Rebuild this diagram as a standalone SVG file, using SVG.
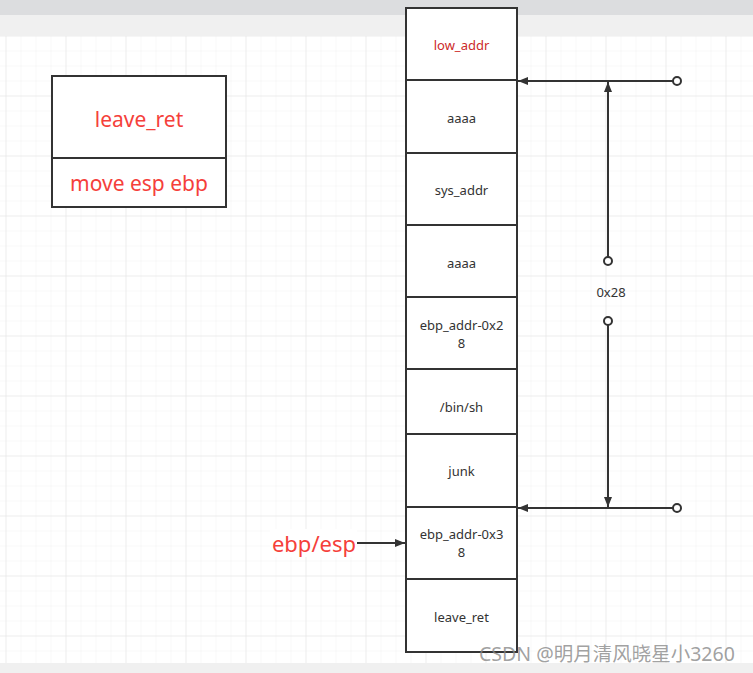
<svg xmlns="http://www.w3.org/2000/svg" width="753" height="673" viewBox="0 0 753 673">
<defs>
<pattern id="minor" x="5.5" y="5.5" width="15" height="15" patternUnits="userSpaceOnUse">
<path d="M0 0H15M0 0V15" fill="none" stroke="#f1f1f1" stroke-width="1"/>
</pattern>
<pattern id="major" x="5.5" y="35.5" width="60" height="60" patternUnits="userSpaceOnUse">
<path d="M0 0H60M0 0V60" fill="none" stroke="#e4e4e4" stroke-width="1"/>
</pattern>
<marker id="ah" viewBox="0 0 10 10" refX="10" refY="5" markerWidth="10" markerHeight="10" markerUnits="userSpaceOnUse" orient="auto">
<path d="M0 1L10 5L0 9Z" fill="#333"/>
</marker>
<style>
.box{fill:#fff;stroke:#333;stroke-width:2}
.t{font-family:"Noto Sans","Noto Sans CJK SC",sans-serif;font-size:13px;fill:#333;text-anchor:middle}
.r{fill:#cc2a2a}
.big{font-family:"Noto Sans","Noto Sans CJK SC",sans-serif;font-size:21px;fill:#f5403a;text-anchor:middle}
.ln{fill:none;stroke:#333;stroke-width:2}
.dot{fill:#fff;stroke:#333;stroke-width:2}
</style>
</defs>
<rect x="0" y="0" width="753" height="673" fill="#ffffff"/>
<rect x="0" y="36" width="753" height="627" fill="url(#minor)"/>
<rect x="0" y="36" width="753" height="627" fill="url(#major)"/>
<rect x="0" y="0" width="753" height="15" fill="#dcdddf"/>
<rect x="0" y="15" width="753" height="21" fill="#f0f0f0"/>
<rect x="0" y="663" width="753" height="10" fill="#f0f0f0"/>

<g id="legend">
<rect class="box" x="52" y="76" width="174" height="82"/>
<rect class="box" x="52" y="158" width="174" height="49"/>
<text class="big" x="139" y="127">leave_ret</text>
<text class="big" x="139" y="191">move esp ebp</text>
</g>

<g id="stack">
<g id="s1"><rect class="box" x="406" y="8" width="111" height="72"/><text class="t r" x="461.5" y="50">low_addr</text></g>
<g id="s2"><rect class="box" x="406" y="80" width="111" height="73"/><text class="t" x="461.5" y="123">aaaa</text></g>
<g id="s3"><rect class="box" x="406" y="153" width="111" height="72"/><text class="t" x="461.5" y="195">sys_addr</text></g>
<g id="s4"><rect class="box" x="406" y="225" width="111" height="72"/><text class="t" x="461.5" y="268">aaaa</text></g>
<g id="s5"><rect class="box" x="406" y="297" width="111" height="72"/><text class="t" x="461.5" y="329.5">ebp_addr-0x2</text><text class="t" x="461.5" y="347.5">8</text></g>
<g id="s6"><rect class="box" x="406" y="369" width="111" height="65"/><text class="t" x="461.5" y="412">/bin/sh</text></g>
<g id="s7"><rect class="box" x="406" y="434" width="111" height="73"/><text class="t" x="461.5" y="476">junk</text></g>
<g id="s8"><rect class="box" x="406" y="507" width="111" height="72"/><text class="t" x="461.5" y="539">ebp_addr-0x3</text><text class="t" x="461.5" y="557">8</text></g>
<g id="s9"><rect class="box" x="406" y="579" width="111" height="73"/><text class="t" x="461.5" y="621.5">leave_ret</text></g>
</g>

<g id="pointer">
<rect x="270" y="529" width="87" height="28" fill="#fff"/>
<text x="314" y="552" font-family="'Noto Sans','Noto Sans CJK SC',sans-serif" font-size="22" fill="#f5403a" text-anchor="middle">ebp/esp</text>
</g>

<g id="label-0x28">
<text class="t" x="611" y="297">0x28</text>
</g>

<g id="connectors">
<path class="ln" d="M673 81H518" marker-end="url(#ah)"/>
<circle class="dot" cx="677" cy="81" r="4"/>
<path class="ln" d="M608 257V82" marker-end="url(#ah)"/>
<circle class="dot" cx="608" cy="261" r="4"/>
<path class="ln" d="M608 325V507" marker-end="url(#ah)"/>
<circle class="dot" cx="608" cy="321" r="4"/>
<path class="ln" d="M673 508H518" marker-end="url(#ah)"/>
<circle class="dot" cx="677" cy="508" r="4"/>
<path class="ln" d="M357 543H405" marker-end="url(#ah)"/>
</g>

<text x="479" y="661" font-family="'Noto Sans','Noto Sans CJK SC',sans-serif" font-size="19.5" fill="#888" fill-opacity="0.8">CSDN @明月清风晓星小3260</text>
</svg>
